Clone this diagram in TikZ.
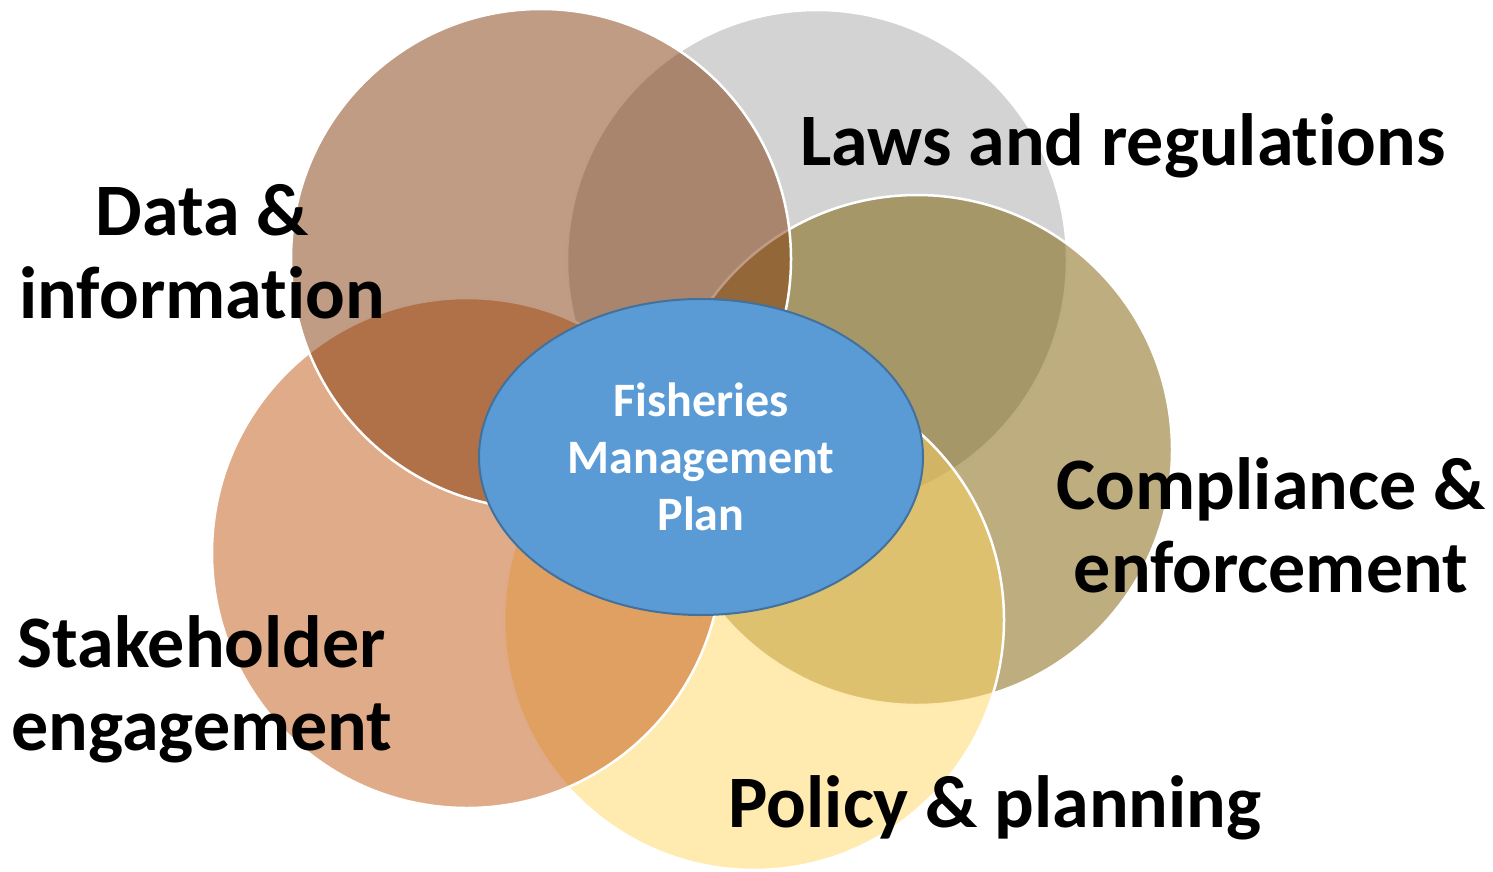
\documentclass[tikz,border=0pt]{standalone}
\usepackage{fontspec}
\setmainfont{Carlito}[Ligatures=NoCommon]
\usepackage{tikz}
\usetikzlibrary{shapes.geometric}

\definecolor{cgray}{RGB}{167,167,167}
\definecolor{colive}{RGB}{123,92,0}
\definecolor{cyellow}{RGB}{255,213,97}
\definecolor{corange}{RGB}{193,87,19}
\definecolor{cbrown}{RGB}{129,57,9}
\definecolor{cblue}{RGB}{91,155,213}
\definecolor{cblueline}{RGB}{65,113,156}

\begin{document}
\begin{tikzpicture}[x=1pt, y=-1pt,
  venn/.style={circle, draw=white, line width=2.5pt, fill opacity=0.5, inner sep=0pt},
  lbl/.style={font=\fontsize{74}{83}\selectfont\bfseries, align=center, inner sep=0pt}]

\useasboundingbox (0,0) rectangle (1493,872);

 % circles, back to front
 \foreach \cx/\cy/\d/\col/\nm in {817/260/500/cgray/laws, 917/450/510/colive/comp, 754/620/500/cyellow/poli, 467/553/510/corange/stak, 541/259/500/cbrown/data} {
  \node[venn, minimum size=\d pt, fill=\col] (\nm) at (\cx,\cy) {};
 }

 \node[ellipse, draw=cblueline, fill=cblue, line width=2pt, minimum width=444pt, minimum height=316pt, inner sep=0pt,
   font=\fontsize{48}{57}\selectfont\bfseries, text=white, align=center] (fmp) at (701,457) {Fisheries\\Management\\Plan};

 \node[lbl] (tdata) at (202,252) {Data \&\\information};
 \node[lbl, anchor=base] (tlaws) at (1123,165) {Laws and regulations};
 \node[lbl] (tcomp) at (1271,525) {Compliance \&\\enforcement};
 \node[lbl] (tstak) at (202,689) {Stakeholder\\engagement};
 \node[lbl, anchor=base] (tpoli) at (995,827) {Policy \& planning};
\end{tikzpicture}
\end{document}
